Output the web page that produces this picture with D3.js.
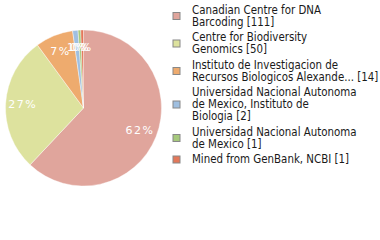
<!DOCTYPE html>
<html>
<head>
<meta charset="utf-8">
<script src="https://cdn.jsdelivr.net/npm/d3@7"></script>
<style>
body { margin:0; background:#fff; }
svg { display:block; }
</style>
</head>
<body>
<div id="chart"></div>
<script>
// institutions, counts and colours
var labels = [
	["Canadian Centre for DNA", "Barcoding [111]"],
	["Centre for Biodiversity", "Genomics [50]"],
	["Instituto de Investigacion de", "Recursos Biologicos Alexande... [14]"],
	["Universidad Nacional Autonoma", "de Mexico, Instituto de", "Biologia [2]"],
	["Universidad Nacional Autonoma", "de Mexico [1]"],
	["Mined from GenBank, NCBI [1]"]
];
var counts = [111, 50, 14, 2, 1, 1];
var colors = ["#e0a59c", "#dde29e", "#eeab6e", "#9fbfe0", "#a6c97c", "#e3785a"];

var width = 380, height = 240;
var svg = d3.select('#chart').append('svg')
	.attr('width', width).attr('height', height);

var cx = 83.5, cy = 108, radius = 78;
var total = d3.sum(counts);

var pie = d3.pie().sort(null).value(function(d) { return d; });
var arcs = pie(counts);
var arc = d3.arc().innerRadius(0).outerRadius(radius);
var labelArc = d3.arc().innerRadius(radius * 0.78).outerRadius(radius * 0.78);

var g = svg.append('g').attr('transform', 'translate(' + cx + ',' + cy + ')');

g.selectAll('path.slice')
	.data(arcs)
	.enter().append('path')
	.attr('class', 'slice')
	.attr('d', arc)
	.attr('fill', function(d, i) { return colors[i]; })
	.attr('stroke', '#fff')
	.attr('stroke-width', 0.4);

g.selectAll('text.pct')
	.data(arcs)
	.enter().append('text')
	.attr('class', 'pct')
	.attr('transform', function(d) { return 'translate(' + labelArc.centroid(d) + ')'; })
	.attr('text-anchor', 'middle')
	.attr('dy', '0.35em')
	.style('font-family', 'DejaVu Sans')
	.style('font-size', '11px')
	.style('letter-spacing', '1.5px')
	.style('fill', '#fff')
	.text(function(d) { return Math.floor(d.data / total * 100) + '%'; });

// legend
var legend = svg.append('g').attr('class', 'legend');
var lineH = 12, gap = 3.5;
var y = 10;
labels.forEach(function(lines, i) {
	var top = y;
	var item = legend.append('g');
	lines.forEach(function(t, j) {
		item.append('text')
			.attr('x', 192)
			.attr('y', y)
			.attr('dy', '0.35em')
			.style('font-family', 'DejaVu Sans Condensed')
			.style('font-size', '11.4px')
			.style('fill', '#1a1a1a')
			.text(t);
		y += lineH;
	});
	var mid = (top + y - lineH) / 2;
	item.append('rect')
		.attr('x', 173).attr('y', mid - 3.5)
		.attr('width', 7).attr('height', 7)
		.attr('fill', colors[i])
		.attr('stroke', '#888')
		.attr('stroke-width', 1);
	y += gap;
});
</script>
</body>
</html>
